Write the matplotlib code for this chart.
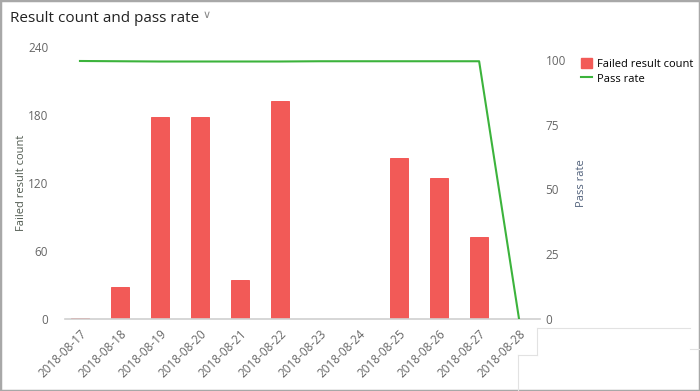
import matplotlib

matplotlib.use("Agg")
import matplotlib.pyplot as plt
from matplotlib.lines import Line2D
from matplotlib.patches import Rectangle

plt.rcParams["font.family"] = ["Open Sans", "DejaVu Sans"]

dates = ["2018-08-17", "2018-08-18", "2018-08-19", "2018-08-20", "2018-08-21",
         "2018-08-22", "2018-08-23", "2018-08-24", "2018-08-25", "2018-08-26",
         "2018-08-27", "2018-08-28"]
failed = [1, 28, 178, 178, 34, 192, 0, 0, 142, 124, 72, 0]
pass_rate = [99.6, 99.5, 99.4, 99.4, 99.4, 99.4, 99.5, 99.5, 99.5, 99.5, 99.5, 0]
left_ticks = [0, 60, 120, 180, 240]
right_ticks = [0, 25, 50, 75, 100]

RED = "#f25a57"
GREEN = "#3cb33c"
GREY = "#666666"

fig = plt.figure(figsize=(7.0, 3.91), dpi=100)
ax = fig.add_axes([65 / 700, 72 / 391, 475 / 700, 272 / 391])
x = list(range(len(dates)))
ax.bar(x, failed, width=0.45, color=RED, edgecolor="#f24a48", linewidth=0.6,
       label="Failed result count")
ax.set_xlim(-0.375, len(dates) - 0.5 + 0.025)
ax.set_ylim(0, 240)
ax.set_yticks(left_ticks)
ax.set_xticks(x)
ax.set_xticklabels(dates, rotation=45, ha="right", rotation_mode="anchor")
ax.tick_params(axis="both", length=0, labelsize=8.5, labelcolor=GREY)
ax.tick_params(axis="x", pad=6)
ax.tick_params(axis="y", pad=12)
for s in ["top", "right", "left"]:
    ax.spines[s].set_visible(False)
ax.spines["bottom"].set_color("#d0d0d0")
ax.spines["bottom"].set_linewidth(1.2)
ax.set_ylabel("Failed result count", fontsize=8, color="#505a50", labelpad=1)

ax2 = ax.twinx()
ax2.plot(x, pass_rate, color=GREEN, linewidth=1.5, label="Pass rate")
ax2.set_ylim(0, 105)
ax2.set_yticks(right_ticks)
ax2.tick_params(axis="y", length=0, labelsize=8.5, labelcolor=GREY, pad=4)
for s in ["top", "right", "left", "bottom"]:
    ax2.spines[s].set_visible(False)
ax2.set_ylabel("Pass rate", fontsize=8, color="#50607a", labelpad=7)

handles = [Rectangle((0, 0), 1, 1, color=RED), Line2D([], [], color=GREEN, lw=1.5)]
fig.legend(handles, ["Failed result count", "Pass rate"], loc="upper left",
           bbox_to_anchor=(573 / 700, 1 - 50 / 391), frameon=False, fontsize=8,
           handlelength=1.0, handleheight=1.0, handletextpad=0.5, labelspacing=0.3,
           borderpad=0.2)

fig.text(10 / 700, 1 - 18 / 391, "Result count and pass rate", fontsize=11,
         color="#222222", va="center")
fig.text(203 / 700, 1 - 16 / 391, "\u2228", fontsize=8, color="#888888", va="center")

# faint container edges
faint = "#e2e2e2"
for xs, ys in [([538, 690], [328, 328]), ([537, 537], [328, 355]),
               ([518, 537], [355, 355]), ([518, 518], [355, 391]),
               ([690, 700], [349, 349])]:
    fig.add_artist(Line2D([v / 700 for v in xs], [1 - v / 391 for v in ys],
                          color=faint, lw=0.8))
fig.add_artist(Rectangle((0, 0), 1, 1, transform=fig.transFigure, fill=False,
                         edgecolor="#a8a8a8", lw=2.5))

fig.savefig("out.png", dpi=100)
